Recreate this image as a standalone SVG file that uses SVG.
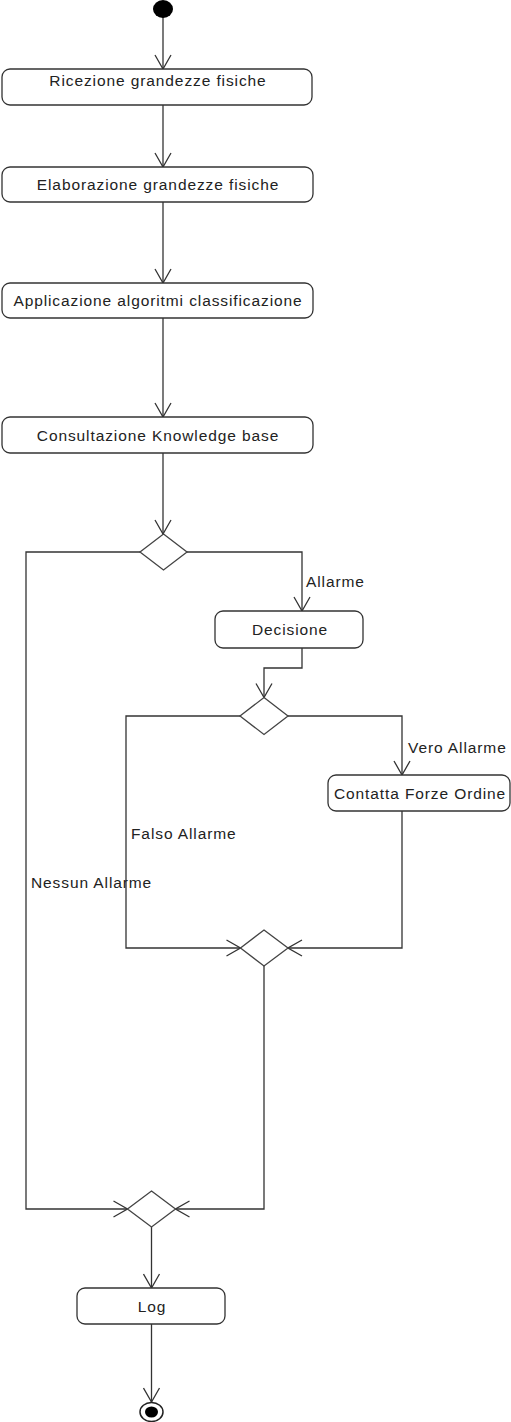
<svg xmlns="http://www.w3.org/2000/svg" width="511" height="1422" viewBox="0 0 511 1422">
  <style>
    .act { fill: #ffffff; stroke: #333333; stroke-width: 1.3; }
    .dec { fill: #ffffff; stroke: #444444; stroke-width: 1.3; }
    .lbl { font-family: "Liberation Sans", Arial, sans-serif; font-size: 15.5px; letter-spacing: 0.9px; fill: #222222; }
    .mid { text-anchor: middle; }
    .flow { fill: none; stroke: #333333; stroke-width: 1.3; marker-end: url(#open); }
  </style>
  <defs>
    <marker id="open" viewBox="0 0 16 18" refX="15" refY="9" markerWidth="16" markerHeight="18" markerUnits="userSpaceOnUse" orient="auto">
      <path d="M1,1 L15,9 L1,17" fill="none" stroke="#333333" stroke-width="1.3"/>
    </marker>
  </defs>

  <rect width="511" height="1422" fill="#ffffff"/>

  <!-- connectors -->
  <g id="connectors">
    <path class="flow" d="M163,17 L163,69"/>
    <path class="flow" d="M163,105 L163,167"/>
    <path class="flow" d="M163,202 L163,283"/>
    <path class="flow" d="M163,318 L163,417"/>
    <path class="flow" d="M163,453 L163,534"/>
    <path class="flow" d="M186.5,552 L302,552 L302,611"/>
    <path class="flow" d="M302,648 L302,668 L264,668 L264,697.5"/>
    <path class="flow" d="M288,716 L402,716 L402,775"/>
    <path class="flow" d="M240,716 L126,716 L126,948 L240.5,948"/>
    <path class="flow" d="M402,811 L402,948 L288,948"/>
    <path class="flow" d="M264,966 L264,1209 L175.5,1209"/>
    <path class="flow" d="M140,552 L26,552 L26,1209 L127.5,1209"/>
    <path class="flow" d="M151.5,1227 L151.5,1288"/>
    <path class="flow" d="M151.5,1324 L151.5,1402"/>
    <text class="lbl" x="306" y="587">Allarme</text>
    <text class="lbl" x="408" y="753">Vero Allarme</text>
    <text class="lbl" x="131" y="839">Falso Allarme</text>
    <text class="lbl" x="31" y="888">Nessun Allarme</text>
  </g>

  <!-- start -->
  <g id="start">
    <ellipse cx="163" cy="9" rx="10" ry="9" fill="#000000"/>
  </g>

  <g id="ricezione">
    <rect class="act" x="2" y="69" width="310" height="36" rx="8"/>
    <text class="lbl mid" x="158" y="86">Ricezione grandezze fisiche</text>
  </g>

  <g id="elaborazione">
    <rect class="act" x="2" y="167" width="311" height="35" rx="8"/>
    <text class="lbl mid" x="158" y="190">Elaborazione grandezze fisiche</text>
  </g>

  <g id="applicazione">
    <rect class="act" x="2" y="283" width="311" height="35" rx="8"/>
    <text class="lbl mid" x="158" y="306">Applicazione algoritmi classificazione</text>
  </g>

  <g id="consultazione">
    <rect class="act" x="2" y="417" width="311" height="36" rx="8"/>
    <text class="lbl mid" x="158" y="441">Consultazione Knowledge base</text>
  </g>

  <g id="decision-allarme">
    <polygon class="dec" points="163.5,534 187,552 163.5,570 140,552"/>
  </g>

  <g id="decisione">
    <rect class="act" x="215" y="611" width="148" height="37" rx="8"/>
    <text class="lbl mid" x="290" y="635">Decisione</text>
  </g>

  <g id="decision-vero-falso">
    <polygon class="dec" points="264,697.5 288,716 264,734.5 240,716"/>
  </g>

  <g id="contatta">
    <rect class="act" x="328" y="775" width="182" height="36" rx="8"/>
    <text class="lbl mid" x="420" y="799">Contatta Forze Ordine</text>
  </g>

  <g id="merge-allarme">
    <polygon class="dec" points="264,930 288,948 264,966 240.5,948"/>
  </g>

  <g id="merge-finale">
    <polygon class="dec" points="151.5,1191 175.5,1209 151.5,1227 127.5,1209"/>
  </g>

  <g id="log">
    <rect class="act" x="77" y="1288" width="148" height="36" rx="8"/>
    <text class="lbl mid" x="152" y="1312">Log</text>
  </g>

  <g id="end">
    <ellipse cx="151.5" cy="1412" rx="11.5" ry="9.5" fill="#ffffff" stroke="#222222" stroke-width="1.5"/>
    <ellipse cx="151.5" cy="1412" rx="6.5" ry="5.5" fill="#000000"/>
  </g>
</svg>
